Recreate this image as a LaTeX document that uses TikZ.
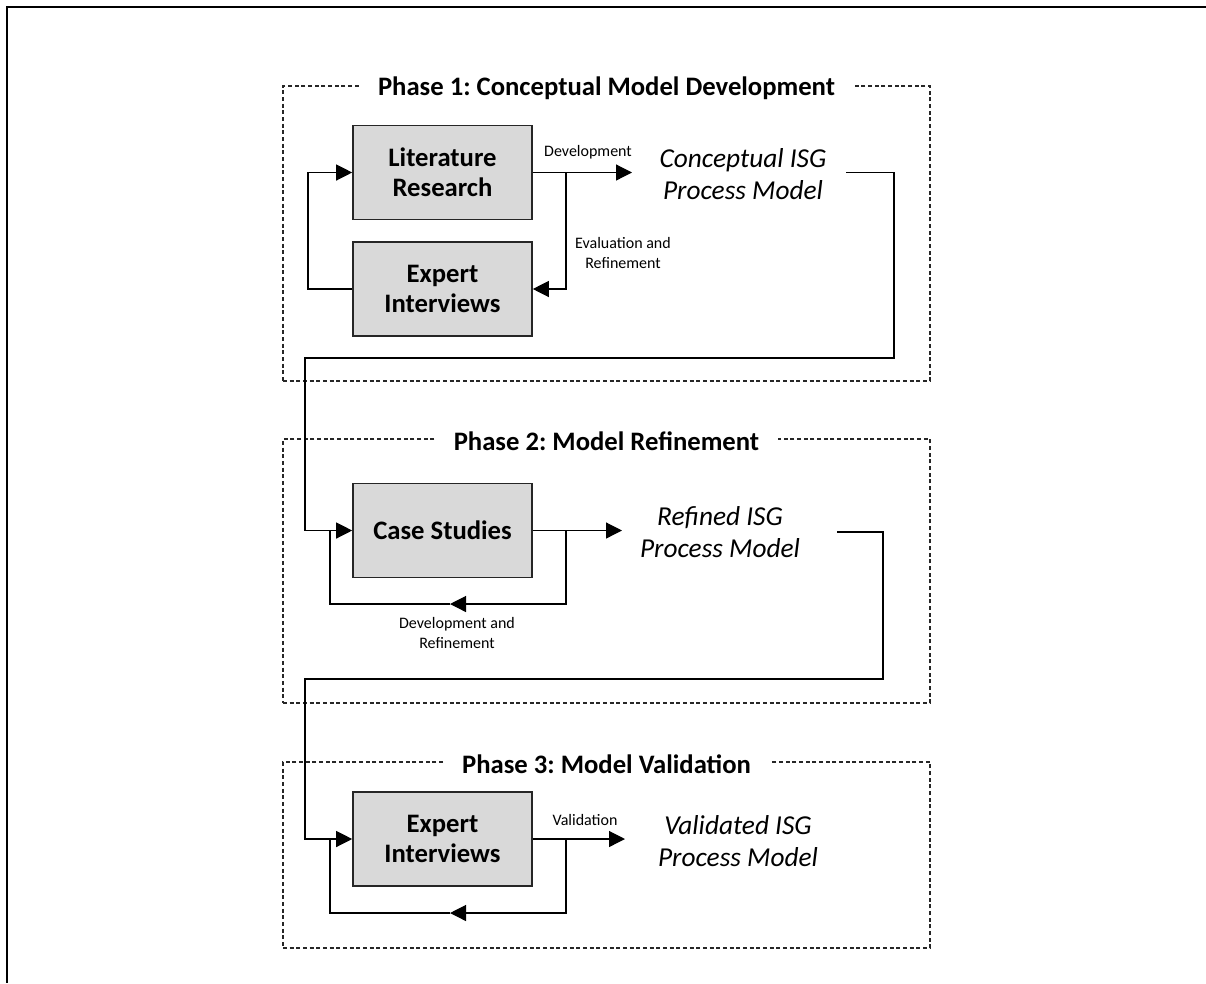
\documentclass[tikz,border=0pt]{standalone}
\usepackage{fontspec}
\setmainfont{Carlito}
\usetikzlibrary{arrows.meta,calc}
\frenchspacing
\begin{document}
\begin{tikzpicture}[x=0.75pt,y=-0.75pt,
  procbox/.style={draw=black!85, fill=black!15, line width=1.2pt, minimum width=134.25pt, minimum height=70.5pt, align=center, font=\fontsize{20}{22.5}\selectfont\bfseries, inner sep=0pt},
  phasebox/.style={draw=black!85, dash pattern=on 3pt off 2pt, line width=0.8pt, inner sep=0pt},
  phasetitle/.style={fill=white, inner xsep=14pt, inner ysep=2pt, font=\fontsize{20}{22.5}\selectfont\bfseries},
  modeltext/.style={align=center, font=\fontsize{20.5}{24}\selectfont\itshape},
  smalllabel/.style={align=center, font=\fontsize{12}{15}\selectfont},
  conn/.style={draw=black, line width=0.9pt},
  arr/.style={conn, -{Triangle[length=12pt,width=12pt]}},
]
\useasboundingbox (0,0) rectangle (1206,983);
% outer frame (top and left edges)
\draw[line width=2.2pt] (1206,7) -- (7,7) -- (7,983);

% phase frames
\node[phasebox, minimum width=485.25pt, minimum height=221.25pt] (p1) at (606.5,233.5) {};
\node[phasebox, minimum width=485.25pt, minimum height=198pt] (p2) at (606.5,571) {};
\node[phasebox, minimum width=485.25pt, minimum height=139.5pt] (p3) at (606.5,855) {};
\node[phasetitle] (t1) at ([yshift=-2pt]p1.north) {Phase 1: Conceptual Model Development};
\node[phasetitle] (t2) at ([yshift=-2pt]p2.north) {Phase 2: Model Refinement};
\node[phasetitle] (t3) at ([yshift=-2pt]p3.north) {Phase 3: Model Validation};

% Phase 1
\node[procbox] (lr) at (442.5,172.5) {Literature\\Research};
\node[procbox] (ei1) at (442.5,289) {Expert\\Interviews};
\node[modeltext] (cm) at (743,174) {Conceptual ISG\\Process Model};
\node[smalllabel] (dev1) at (588,152) {Development};
\node[smalllabel] (eval) at (623,253) {Evaluation and\\Refinement};
\coordinate (l1) at (308,289);
\coordinate (d1) at (632,172.5);
\coordinate (b1) at (566,172.5);
\coordinate (c1s) at (846,172.5);
\coordinate (c1a) at (894,358);
\coordinate (c1b) at (305,530.5);
\draw[arr] (ei1.west) -- (l1) |- (lr.west);
\draw[arr] (lr.east) -- (d1);
\draw[arr] (b1) |- (ei1.east);

% Phase 2
\node[procbox] (cs) at (442.5,530.5) {Case Studies};
\node[modeltext] (rm) at (720,532) {Refined ISG\\Process Model};
\node[smalllabel] (devref) at (457,633) {Development and\\Refinement};
\coordinate (d2) at (622,530.5);
\coordinate (b2) at (566,530.5);
\coordinate (m2) at (450,604);
\coordinate (j2) at (330,530.5);
\coordinate (c2s) at (837,532);
\coordinate (c2a) at (883,679);
\coordinate (c2b) at (305,839);
\draw[arr] (c1s) -| (c1a) -| (c1b) -- (cs.west);
\draw[arr] (cs.east) -- (d2);
\draw[arr] (b2) |- (m2);
\draw[conn] (m2) -| (j2);

% Phase 3
\node[procbox] (ei3) at (442.5,839) {Expert\\Interviews};
\node[modeltext] (vm) at (738,841) {Validated ISG\\Process Model};
\node[smalllabel] (val) at (585,820) {Validation};
\coordinate (d3) at (625,839);
\coordinate (b3) at (566,839);
\coordinate (m3) at (450,913);
\coordinate (j3) at (330,839);
\draw[arr] (c2s) -| (c2a) -| (c2b) -- (ei3.west);
\draw[arr] (ei3.east) -- (d3);
\draw[arr] (b3) |- (m3);
\draw[conn] (m3) -| (j3);
\end{tikzpicture}
\end{document}
